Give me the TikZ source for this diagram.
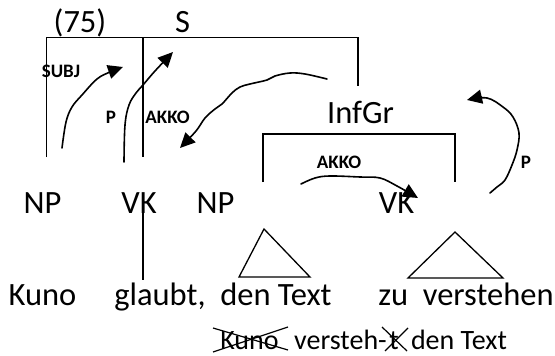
\documentclass[tikz,border=0pt]{standalone}
\usepackage{fontspec}
\setmainfont{Carlito}
\usetikzlibrary{arrows.meta}
\begin{document}
\begin{tikzpicture}[x=1pt,y=-1pt,
  big/.style={font=\fontsize{32.5}{38}\selectfont, anchor=base, inner sep=0pt},
  small/.style={font=\fontsize{28}{32}\selectfont, anchor=base, inner sep=0pt},
  lab/.style={font=\fontsize{19}{21}\selectfont\bfseries, anchor=base, inner sep=0pt},
  tree/.style={line width=1.3pt},
  rel/.style={line width=1.6pt, line cap=round, -{Triangle[length=15pt,width=14pt]}},
  cross/.style={line width=1.2pt}]
\useasboundingbox (0,0) rectangle (555,356);
% texts
\node[big] (n75) at (80,32) {(75)};
\node[big] (s) at (182.5,32) {S};
\node[big] (infgr) at (360.5,123) {InfGr};
\node[big] (np1) at (42.5,213) {NP};
\node[big] (vk1) at (139,213) {VK};
\node[big] (np2) at (215.5,213) {NP};
\node[big] (vk2) at (396.5,213) {VK};
\node[big] (kuno) at (42.5,305) {Kuno};
\node[big] (glaubt) at (160,305) {glaubt,};
\node[big] (dentext) at (276,305) {den Text};
\node[big] (zuv) at (466,305) {zu~~verstehen};
\node[small] (kuno2) at (249.5,349) {Kuno};
\node[small, anchor=base west] (versteh) at (294,349) {versteh-};
\node[small] (tt) at (394,349) {t};
\node[small] (dentext2) at (459,349) {den Text};
\node[lab] (subj) at (61,77) {SUBJ};
\node[lab] (p1) at (111,123) {P};
\node[lab] (akko1) at (167.5,123) {AKKO};
\node[lab] (akko2) at (339,168) {AKKO};
\node[lab] (p2) at (526,168) {P};
% tree coordinates
\coordinate (sl) at (46.7,157);
\coordinate (sr) at (358,37.5);
\coordinate (srb) at (358,86);
\coordinate (smt) at (143,37.5);
\coordinate (smb) at (143,157);
\coordinate (il) at (263,182);
\coordinate (ir) at (455,134);
\coordinate (irb) at (455,182);
\coordinate (vkt) at (143,208);
\coordinate (vkb) at (143,280);
\draw[tree] (sl) |- (sr) -- (srb);
\draw[tree] (smt) -- (smb);
\draw[tree] (il) |- (ir) -- (irb);
\draw[tree] (vkt) -- (vkb);
% triangles
\coordinate (t1a) at (264,229);
\coordinate (t1b) at (239,277);
\coordinate (t1c) at (310,277);
\coordinate (t2a) at (455,232);
\coordinate (t2b) at (408,278);
\coordinate (t2c) at (503,278);
\draw[tree, line join=miter] (t1a) -- (t1b) -- (t1c) -- cycle;
\draw[tree, line join=miter] (t2a) -- (t2b) -- (t2c) -- cycle;
% relation arrows
\coordinate (a1s) at (62,148);
\coordinate (a1e) at (123,67);
\draw[rel] plot[smooth, tension=0.6] coordinates {(a1s) (66,122) (72,107) (82,95) (97,79) (110,72) (a1e)};
\coordinate (a2s) at (124,162);
\coordinate (a2e) at (173,52);
\draw[rel] plot[smooth, tension=0.6] coordinates {(a2s) (125,125) (129,105) (136,93) (143,85) (155,71) (a2e)};
\coordinate (a3s) at (327,79);
\coordinate (a3e) at (180,148);
\draw[rel] plot[smooth, tension=0.6] coordinates {(a3s) (305,74) (290,73) (275,76) (267,80) (250,84) (240,87) (232,93) (222,104) (215,109) (205,118) (196,131) (a3e)};
\coordinate (a4s) at (301,184);
\coordinate (a4e) at (418,198);
\draw[rel] plot[smooth, tension=0.6] coordinates {(a4s) (315,178) (330,176) (360,177) (380,178) (397,186) (a4e)};
\coordinate (a5s) at (490,193);
\coordinate (a5e) at (467,100);
\draw[rel] plot[smooth, tension=0.6] coordinates {(a5s) (497,187) (505,180) (512,165) (517,150) (519,133) (513,117) (503,107) (487,98) (a5e)};
% strike-outs
\draw[cross] (213,328) -- (288,350);
\draw[cross] (213,352) -- (288,327);
\draw[cross] (382,327) -- (407,351);
\draw[cross] (385,351) -- (408,328);
\end{tikzpicture}
\end{document}
